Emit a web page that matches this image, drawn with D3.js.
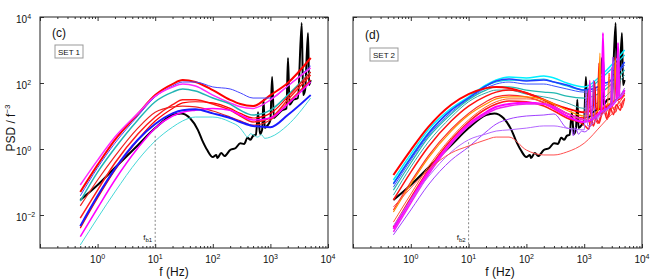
<!DOCTYPE html>
<meta charset="utf-8">
<head>
    <script src="https://d3js.org/d3.v7.min.js"></script>
    <style>
        body { margin: 0; background: #fff; }
        text { font-family: "Liberation Sans", Arial, Helvetica, sans-serif; fill: #111; }
        .tick line { stroke: #333; }
    </style>
</head>
<body>
<div id="graph"></div>
<script>
    // frequencies (Hz) at which the smooth curves were read
    var freqs = [0.5, 1, 2, 5, 10, 20, 30, 50, 100, 200, 300, 500, 1000, 2000, 5000];

    // reference spectrum (black), same in both panels, [f, PSD/f^-3]
    var refCurve = [[0.5, 0.0285], [1, 0.081], [2, 0.27], [5, 1.3], [10, 4.3], [20, 10.7], [28, 12],
        [40, 8.7], [55, 3.8], [65, 1.9], [80, 0.93], [100, 0.57], [115, 0.66], [120, 0.53], [140, 0.76],
        [160, 0.61], [200, 0.93], [250, 1.07], [300, 1.5], [350, 1.42], [400, 2.2], [450, 1.9], [500, 2.5],
        [560, 2.7], [610, 13], [660, 2.85], [720, 3.9], [760, 31], [800, 4.3], [900, 5.3], [1000, 7.6],
        [1070, 152], [1150, 8.7], [1300, 10.7], [1600, 15], [1900, 17], [2020, 573], [2150, 22],
        [2500, 31], [3000, 35], [3500, 6580], [3700, 43], [4000, 61], [4500, 3270], [4700, 87], [5000, 123]];

    // SET 1 curves, one row per curve, values at freqs
    var set1Values = [
        [0.050, 0.33, 1.9, 11.5, 43, 93, 123, 107, 61, 31, 23, 20, 43, 100, 573],
        [0.038, 0.27, 1.5, 10, 38, 81, 107, 107, 76, 66, 50, 35, 35, 81, 327],
        [0.081, 0.46, 2.3, 12, 40, 76, 93, 81, 43, 25, 19, 17, 31, 81, 285],
        [0.0265, 0.20, 1.07, 7.6, 27, 53, 66, 57, 35, 23, 15, 10.7, 15, 43, 215],
        [0.0081, 0.057, 0.377, 2.85, 9.3, 22, 31, 31, 23, 15, 10, 6.6, 8.7, 31, 175],
        [0.0040, 0.033, 0.23, 1.9, 7.05, 17, 25, 27, 25, 17, 12, 8.7, 12, 38, 215],
        [0.0188, 0.115, 0.61, 4.3, 13, 19, 20, 19, 14.2, 9.3, 7.1, 5.3, 7.6, 25, 123],
        [0.0022, 0.0163, 0.115, 1.07, 4.3, 10, 13, 15, 17, 15, 10.7, 7.6, 8.7, 23, 107],
        [0.0046, 0.038, 0.25, 1.9, 5.7, 12, 15, 16, 12, 8.7, 6.6, 5.0, 4.6, 10.7, 43],
        [0.00123, 0.0081, 0.050, 0.46, 1.75, 4.6, 7.1, 9.3, 9.3, 6.6, 4.3, 2.7, 2.3, 5.3, 35]
    ];
    // extra detail points (noise, peaks) for each SET 1 curve
    var set1Extra = [[], [], [], [], [], [], [], [], [],
        [[350, 3.0], [400, 2.3], [450, 2.9], [600, 2.3], [700, 2.7], [800, 2.1]]];
    var set1Colors = ["#ff0000", "#4646ff", "#ff2aff", "#22b4b4", "#ff1a1a", "#ff0000", "#ee2222", "#ff00ff", "#1a1aff", "#46d8d8"];
    var set1Widths = [2, 1, 1.5, 1.5, 1.5, 1.2, 1.2, 1.5, 2, 1];

    // SET 2 curves
    var set2Values = [
        [0.115, 0.70, 3.8, 17, 38, 87, 123, 152, 142, 163, 142, 100, 76, 175, 1000],
        [0.093, 0.57, 3.1, 15, 35, 81, 107, 123, 123, 132, 107, 81, 61, 142, 705],
        [0.087, 0.53, 2.85, 15, 35, 81, 115, 132, 115, 123, 107, 87, 61, 87, 433],
        [0.070, 0.46, 2.5, 13, 33, 70, 93, 107, 93, 93, 81, 66, 53, 70, 351],
        [0.057, 0.377, 2.2, 11.5, 31, 61, 76, 76, 61, 53, 50, 40, 35, 53, 248],
        [0.040, 0.285, 1.6, 9.3, 27, 50, 61, 61, 46, 38, 33, 25, 17, 31, 175],
        [0.163, 0.93, 4.6, 22, 46, 70, 76, 70, 50, 31, 23, 17, 13, 17, 50],
        [0.0285, 0.20, 1.15, 7.05, 20, 40, 53, 61, 50, 31, 20, 12, 8.7, 15, 43],
        [0.0142, 0.10, 0.61, 4.0, 12, 27, 38, 43, 38, 25, 16.3, 10, 6.6, 12, 35],
        [0.0123, 0.087, 0.53, 3.5, 10.7, 23, 33, 38, 38, 31, 23, 15, 10, 17, 61],
        [0.0061, 0.043, 0.285, 2.2, 7.6, 19, 27, 33, 33, 27, 19, 12, 7.6, 13, 43],
        [0.0043, 0.033, 0.23, 1.9, 6.6, 16.3, 23, 28.5, 27, 20, 14.2, 8.7, 5.3, 10.7, 31],
        [0.0038, 0.0285, 0.20, 1.6, 5.7, 13, 19, 23, 25, 23, 17, 10, 6.6, 15, 61],
        [0.0031, 0.023, 0.163, 1.42, 5.0, 11.5, 16.3, 20, 23, 23, 19, 12, 7.6, 13, 53],
        [0.0025, 0.0142, 0.081, 0.46, 1.15, 3.3, 5.7, 8.1, 10, 10.7, 11.5, 4.3, 3.3, 13, 70],
        [0.0046, 0.0285, 0.142, 0.81, 1.9, 2.85, 3.5, 3.8, 4.3, 5.0, 5.0, 4.3, 3.8, 10.7, 53],
        [0.0175, 0.066, 0.23, 0.76, 1.23, 1.9, 2.3, 2.3, 0.93, 0.66, 0.66, 0.81, 1.5, 5.3, 31]
    ];
    var set2Extra = [
        [], [],
        [[2050, 95], [2150, 500], [2250, 100]],
        [], [], [],
        [[1400, 15], [1500, 110], [1600, 16]],
        [[1100, 9], [1200, 60], [1300, 10], [1700, 13], [1800, 400], [1900, 14], [3300, 28], [3450, 600], [3600, 30]],
        [[1150, 8], [1300, 5], [1500, 10], [1700, 6], [2300, 15], [2600, 9], [3000, 20], [3500, 13], [4000, 28], [4500, 18]],
        [[1760, 15], [1870, 811], [1950, 16], [3300, 30], [3500, 497], [3700, 35]],
        [[2500, 14], [2700, 200], [2900, 17]],
        [[1200, 4], [1300, 8], [1450, 5], [1600, 9], [1800, 6], [2200, 14], [2500, 8], [2800, 18], [3200, 11], [3600, 22], [4200, 15], [4600, 27]],
        [[2110, 3270], [2250, 16], [3600, 30], [3850, 1630], [4100, 35]],
        [[1150, 7], [1250, 120], [1350, 8], [2900, 22], [3000, 300], [3100, 24], [3800, 35], [3900, 900], [4000, 37]],
        [[600, 4], [650, 2.5], [700, 4.5], [800, 2.8], [900, 3.5], [1350, 6], [1450, 120], [1550, 8], [2950, 25], [3150, 614], [3350, 30]],
        [[1080, 60], [1150, 5]],
        []
    ];
    var set2Colors = ["#00f0ff", "#00d0e0", "#1e3cff", "#3a55ff", "#20b8b0", "#30a8a8", "#ff0000", "#ff1010", "#ff2a2a",
        "#ff8c00", "#ff5a28", "#ff1a1a", "#ff00ff", "#f020f0", "#a040ff", "#b468ff", "#ff5050"];
    var set2Widths = [1.5, 1.2, 1.5, 1, 1.2, 1, 2, 1.5, 1.2, 1.2, 1, 1.5, 2, 1.5, 1, 1, 1];

    // axis ticks
    var xMajor = [0.1, 1, 10, 100, 1000, 10000];
    var xLabelled = [1, 10, 100, 1000, 10000];
    var yMajor = [1e-2, 1, 1e2, 1e4];
    var fbFreq = 10;

    var svg = d3.select("#graph")
        .append("svg")
        .attr("width", 654)
        .attr("height", 279);

    var plotTop = 17, plotBottom = 248;
    var y = d3.scaleLog().domain([1e-3, 1e4]).range([plotBottom, plotTop]);

    var xMinor = [];
    xMajor.slice(0, -1).forEach(function(d) {
        for (var k = 2; k <= 9; k++) xMinor.push(d * k);
    });

    function expText(sel, e) {
        sel.text("10");
        sel.append("tspan")
            .attr("dy", -4)
            .style("font-size", "7px")
            .text(e < 0 ? "\u2212" + (-e) : e);
    }

    function drawPanel(p) {
        var x = d3.scaleLog().domain([0.1, 1e4]).range([p.left, p.right]);
        var g = svg.append("g");

        g.append("clipPath").attr("id", "clip" + p.id)
            .append("rect")
            .attr("x", p.left).attr("y", plotTop)
            .attr("width", p.right - p.left).attr("height", plotBottom - plotTop);

        var line = d3.line()
            .x(function(d) { return x(d[0]); })
            .y(function(d) { return y(d[1]); })
            .curve(d3.curveMonotoneX);

        var lines = g.append("g").attr("clip-path", "url(#clip" + p.id + ")");

        // reference curve first, the sets on top
        lines.append("path")
            .attr("d", line(refCurve))
            .attr("fill", "none")
            .attr("stroke", "#000")
            .attr("stroke-width", 2)
            .attr("stroke-linejoin", "round");

        p.values.forEach(function(vals, i) {
            var pts = freqs.map(function(f, j) { return [f, vals[j]]; })
                .concat(p.extra[i])
                .sort(function(a, b) { return a[0] - b[0]; });
            lines.append("path")
                .attr("d", line(pts))
                .attr("fill", "none")
                .attr("stroke", p.colors[i])
                .attr("stroke-width", p.widths[i])
                .attr("stroke-linejoin", "round");
        });

        // dashed marker at the break frequency
        g.append("line")
            .attr("x1", x(fbFreq)).attr("x2", x(fbFreq))
            .attr("y1", y(p.fbTop)).attr("y2", plotBottom)
            .attr("stroke", "#666")
            .attr("stroke-width", 0.8)
            .attr("stroke-dasharray", "2,2");
        var fb = g.append("text")
            .attr("x", x(fbFreq) - 3)
            .attr("y", 240)
            .attr("text-anchor", "end")
            .style("font-size", "8px")
            .text("f");
        fb.append("tspan").attr("dy", 2).style("font-size", "6px").text(p.fb);

        // ticks, pointing inwards on all four sides
        function ticks(axis, tr) {
            var a = g.append("g").attr("transform", tr).call(axis);
            a.select(".domain").remove();
        }
        ticks(d3.axisBottom(x).tickValues(xMajor).tickSize(-4).tickFormat(""), "translate(0," + plotBottom + ")");
        ticks(d3.axisBottom(x).tickValues(xMinor).tickSize(-2).tickFormat(""), "translate(0," + plotBottom + ")");
        ticks(d3.axisTop(x).tickValues(xMajor).tickSize(-4).tickFormat(""), "translate(0," + plotTop + ")");
        ticks(d3.axisTop(x).tickValues(xMinor).tickSize(-2).tickFormat(""), "translate(0," + plotTop + ")");
        ticks(d3.axisLeft(y).tickValues(yMajor).tickSize(-4).tickFormat(""), "translate(" + p.left + ",0)");
        ticks(d3.axisRight(y).tickValues(yMajor).tickSize(-4).tickFormat(""), "translate(" + p.right + ",0)");

        // frame
        g.append("rect")
            .attr("x", p.left).attr("y", plotTop)
            .attr("width", p.right - p.left).attr("height", plotBottom - plotTop)
            .attr("fill", "none")
            .attr("stroke", "#222")
            .attr("stroke-width", 1);

        // x tick labels
        xLabelled.forEach(function(v) {
            g.append("text")
                .attr("x", x(v))
                .attr("y", 263)
                .attr("text-anchor", "middle")
                .style("font-size", "10px")
                .call(expText, Math.round(Math.log10(v)));
        });

        g.append("text")
            .attr("x", p.xLabelX)
            .attr("y", 276)
            .attr("text-anchor", "middle")
            .style("font-size", "12px")
            .text("f (Hz)");

        // panel letter and set box
        g.append("text")
            .attr("x", p.left + 12).attr("y", p.letterY)
            .style("font-size", "12px")
            .text(p.letter);
        g.append("rect")
            .attr("x", p.left + p.boxDx).attr("y", p.boxY)
            .attr("width", 28).attr("height", 13)
            .attr("fill", "#fff")
            .attr("stroke", "#999")
            .attr("stroke-width", 1);
        g.append("text")
            .attr("x", p.left + p.boxDx + 14).attr("y", p.boxY + 9.5)
            .attr("text-anchor", "middle")
            .style("font-size", "8px")
            .text(p.set);
    }

    drawPanel({id: 1, left: 40, right: 328, values: set1Values, extra: set1Extra, colors: set1Colors,
        widths: set1Widths, fb: "b1", fbTop: 2.5, xLabelX: 174, letter: "(c)", letterY: 37,
        set: "SET 1", boxDx: 15, boxY: 45});
    drawPanel({id: 2, left: 353, right: 642, values: set2Values, extra: set2Extra, colors: set2Colors,
        widths: set2Widths, fb: "b2", fbTop: 1.6, xLabelX: 500, letter: "(d)", letterY: 39,
        set: "SET 2", boxDx: 17, boxY: 48});

    // y tick labels, left panel only
    yMajor.forEach(function(v) {
        svg.append("text")
            .attr("x", 16)
            .attr("y", y(v) + 5.5)
            .style("font-size", "10px")
            .call(expText, Math.round(Math.log10(v)));
    });

    // y axis title
    var yt = svg.append("text")
        .attr("transform", "translate(15,128) rotate(-90)")
        .attr("text-anchor", "middle")
        .style("font-size", "12px")
        .text("PSD / f");
    yt.append("tspan").attr("dy", -5).style("font-size", "8px").text("\u22123");
</script>
</body>
